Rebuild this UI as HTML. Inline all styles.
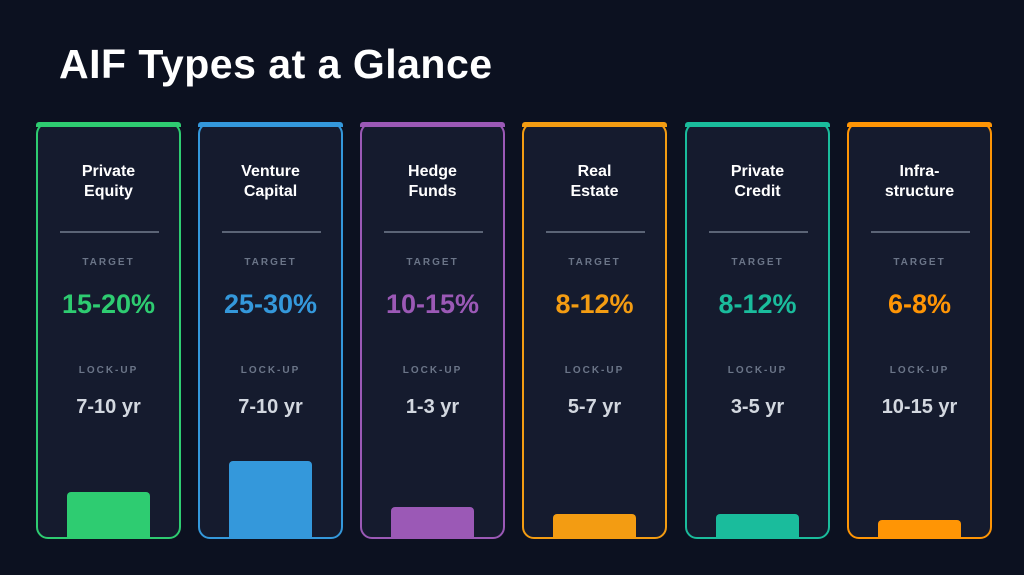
<!DOCTYPE html>
<html><head><meta charset="utf-8"><style>
*{margin:0;padding:0;box-sizing:border-box}
body{width:1024px;height:575px;background:#0c1120;font-family:"Liberation Sans",sans-serif;position:relative;overflow:hidden}
h1{position:absolute;left:59px;top:41px;font-size:41px;font-weight:bold;color:#fff;letter-spacing:0.5px}
.card{position:absolute;top:122px;width:145px;height:417px;border:2px solid;border-radius:12px;background:#151b2e}
.top{position:absolute;top:-2px;left:-2px;right:-2px;height:5px;border-radius:3px 3px 0 0}
.name{position:absolute;top:38px;width:100%;text-align:center;color:#fff;font-weight:bold;font-size:16px;line-height:20px}
.div{position:absolute;top:107px;left:22px;width:99px;height:1.5px;background:#5b6476}
.lab{position:absolute;width:100%;text-align:center;font-size:10px;font-weight:bold;letter-spacing:2px;color:#6b7588}
.val{position:absolute;top:165px;width:100%;text-align:center;font-size:27px;font-weight:bold}
.lock{position:absolute;top:272px;width:100%;text-align:center;font-size:20px;font-weight:bold;color:#d3d8e0}
.bar{position:absolute;left:29px;width:83px;bottom:-1px;border-radius:4px 4px 0 0}
</style></head><body>
<h1>AIF Types at a Glance</h1>

<div class="card" style="left:36px;border-color:#2ecc71"><div class="top" style="background:#2ecc71"></div>
<div class="name">Private<br>Equity</div><div class="div"></div><div class="lab" style="top:133px">TARGET</div>
<div class="val" style="color:#2ecc71">15-20%</div><div class="lab" style="top:241px">LOCK-UP</div><div class="lock">7-10 yr</div>
<div class="bar" style="height:46px;background:#2ecc71"></div></div>

<div class="card" style="left:198px;border-color:#3498db"><div class="top" style="background:#3498db"></div>
<div class="name">Venture<br>Capital</div><div class="div"></div><div class="lab" style="top:133px">TARGET</div>
<div class="val" style="color:#3498db">25-30%</div><div class="lab" style="top:241px">LOCK-UP</div><div class="lock">7-10 yr</div>
<div class="bar" style="height:77px;background:#3498db"></div></div>

<div class="card" style="left:360px;border-color:#9b59b6"><div class="top" style="background:#9b59b6"></div>
<div class="name">Hedge<br>Funds</div><div class="div"></div><div class="lab" style="top:133px">TARGET</div>
<div class="val" style="color:#9b59b6">10-15%</div><div class="lab" style="top:241px">LOCK-UP</div><div class="lock">1-3 yr</div>
<div class="bar" style="height:31px;background:#9b59b6"></div></div>

<div class="card" style="left:522px;border-color:#f39c12"><div class="top" style="background:#f39c12"></div>
<div class="name">Real<br>Estate</div><div class="div"></div><div class="lab" style="top:133px">TARGET</div>
<div class="val" style="color:#f39c12">8-12%</div><div class="lab" style="top:241px">LOCK-UP</div><div class="lock">5-7 yr</div>
<div class="bar" style="height:24px;background:#f39c12"></div></div>

<div class="card" style="left:685px;border-color:#1abc9c"><div class="top" style="background:#1abc9c"></div>
<div class="name">Private<br>Credit</div><div class="div"></div><div class="lab" style="top:133px">TARGET</div>
<div class="val" style="color:#1abc9c">8-12%</div><div class="lab" style="top:241px">LOCK-UP</div><div class="lock">3-5 yr</div>
<div class="bar" style="height:24px;background:#1abc9c"></div></div>

<div class="card" style="left:847px;border-color:#ff9505"><div class="top" style="background:#ff9505"></div>
<div class="name">Infra-<br>structure</div><div class="div"></div><div class="lab" style="top:133px">TARGET</div>
<div class="val" style="color:#ff9505">6-8%</div><div class="lab" style="top:241px">LOCK-UP</div><div class="lock">10-15 yr</div>
<div class="bar" style="height:18px;background:#ff9505"></div></div>
</body></html>
